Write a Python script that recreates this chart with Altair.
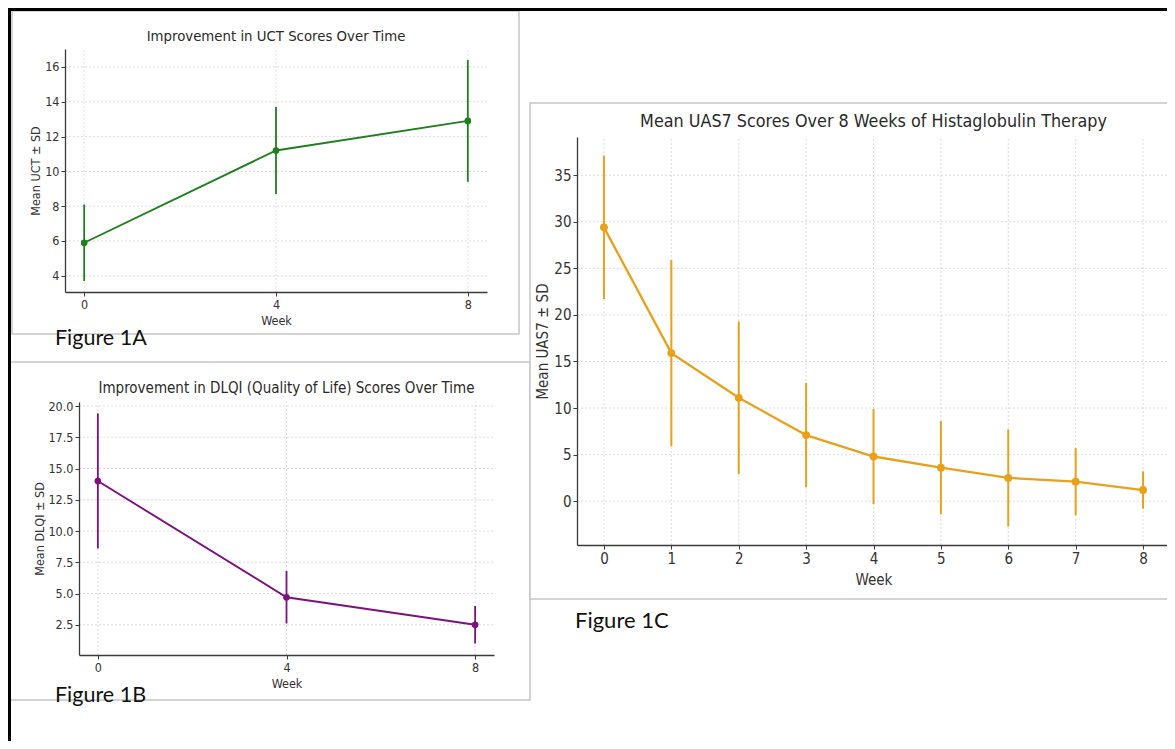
import altair as alt
import pandas as pd

# ---------------- data ----------------
# Figure 1A: UCT
WEEKS_A = [0, 4, 8]
UCT_MEAN = [5.9, 11.2, 12.9]
UCT_SD = [2.2, 2.5, 3.5]
TICKS_A_X = [0, 4, 8]
TICKS_A_Y = [4, 6, 8, 10, 12, 14, 16]

# Figure 1B: DLQI
WEEKS_B = [0, 4, 8]
DLQI_MEAN = [14.0, 4.7, 2.5]
DLQI_SD = [5.4, 2.1, 1.5]
TICKS_B_X = [0, 4, 8]
TICKS_B_Y = [2.5, 5.0, 7.5, 10.0, 12.5, 15.0, 17.5, 20.0]

# Figure 1C: UAS7
WEEKS_C = [0, 1, 2, 3, 4, 5, 6, 7, 8]
UAS7_MEAN = [29.4, 15.9, 11.1, 7.1, 4.8, 3.6, 2.5, 2.1, 1.2]
UAS7_SD = [7.7, 10.0, 8.2, 5.6, 5.1, 5.0, 5.2, 3.6, 2.0]
TICKS_C_X = [0, 1, 2, 3, 4, 5, 6, 7, 8]
TICKS_C_Y = [0, 5, 10, 15, 20, 25, 30, 35]

W, H = 1159, 733
FONT = "DejaVu Sans Condensed, DejaVu Sans"
CAP_FONT = "Lato"
GRID = "#d4d4d4"
AXC = "#3a3a3a"
ONE = pd.DataFrame({"k": [0]})


def panel(weeks, mean, sd, xdom, ydom, xrange_, yrange_, xticks, yticks,
          color, title, ytitle, title_y, title_size, fs, xoff, yoff,
          yfmt, lw, ew, ps, ytp, xtp):
    df = pd.DataFrame({"week": weeks, "mean": mean, "sd": sd})
    xs = alt.Scale(domain=xdom, range=xrange_, nice=False, zero=False)
    ys = alt.Scale(domain=ydom, range=yrange_, nice=False, zero=False)
    ax_common = dict(tickSize=4, tickWidth=1, tickColor=AXC, domainColor=AXC,
                     domainWidth=1.3, labelColor="#333", titleColor="#333",
                     labelFont=FONT, titleFont=FONT, labelFontSize=fs,
                     titleFontSize=fs, titleFontWeight="normal", grid=False,
                     labelPadding=2, zindex=2)
    xaxis = alt.Axis(orient="bottom", offset=xoff, values=xticks, format="d",
                     title="Week", titlePadding=xtp, **ax_common)
    yaxis = alt.Axis(orient="left", offset=yoff, values=yticks, format=yfmt,
                     title=ytitle, titlePadding=ytp, **ax_common)

    gridx = alt.Chart(pd.DataFrame({"t": xticks})).mark_rule(
        color=GRID, strokeDash=[2, 2], strokeWidth=0.8).encode(
        x=alt.X("t:Q", scale=xs, axis=None),
        y=alt.YDatum(ydom[0], scale=ys, axis=None),
        y2=alt.Y2Datum(ydom[1]))
    gridy = alt.Chart(pd.DataFrame({"t": yticks})).mark_rule(
        color=GRID, strokeDash=[2, 2], strokeWidth=0.8).encode(
        y=alt.Y("t:Q", scale=ys, axis=None),
        x=alt.XDatum(xdom[0], scale=xs, axis=None),
        x2=alt.X2Datum(xdom[1]))
    err = alt.Chart(df).transform_calculate(
        lo="datum.mean - datum.sd", hi="datum.mean + datum.sd").mark_rule(
        color=color, strokeWidth=ew).encode(
        x=alt.X("week:Q", scale=xs, axis=None),
        y=alt.Y("lo:Q", scale=ys, axis=None),
        y2="hi:Q")
    line = alt.Chart(df).mark_line(color=color, strokeWidth=lw).encode(
        x=alt.X("week:Q", scale=xs, axis=None),
        y=alt.Y("mean:Q", scale=ys, axis=None))
    pts = alt.Chart(df).mark_circle(color=color, size=ps, opacity=1).encode(
        x=alt.X("week:Q", scale=xs, axis=xaxis),
        y=alt.Y("mean:Q", scale=ys, axis=yaxis))
    ttl = alt.Chart(ONE).mark_text(
        text=title, font=FONT, fontSize=title_size, color="#2a2a2a",
        align="center", baseline="middle").encode(
        x=alt.XDatum(4, scale=xs, axis=None),
        y=alt.value(title_y))
    return [gridx, gridy, err, line, pts, ttl]


pA = panel(WEEKS_A, UCT_MEAN, UCT_SD, [-0.4, 8.4], [3.07, 17.03],
           [57, 479], [284, 41], TICKS_A_X, TICKS_A_Y, "#1f7f1f",
           "Improvement in UCT Scores Over Time", "Mean UCT ± SD",
           29, 14.8, 12.5, 284 - H, -57, "d", 1.9, 1.8, 45, 2, 4)
pB = panel(WEEKS_B, DLQI_MEAN, DLQI_SD, [-0.4, 8.4], [0.08, 20.32],
           [71, 486], [647, 394], TICKS_B_X, TICKS_B_Y, "#7d117d",
           "Improvement in DLQI (Quality of Life) Scores Over Time",
           "Mean DLQI ± SD", 380, 15, 12.5, 647 - H, -71, ".1f", 1.9, 1.8,
           45, 1, 4)
pC = panel(WEEKS_C, UAS7_MEAN, UAS7_SD, [-0.4, 8.4], [-4.7, 39.1],
           [569, 1162], [537, 129], TICKS_C_X, TICKS_C_Y, "#E8A11B",
           "Mean UAS7 Scores Over 8 Weeks of Histaglobulin Therapy",
           "Mean UAS7 ± SD", 114, 17.8, 15, 537 - H, -569, "d", 2.3, 2.0,
           62, 3, 6)


def box(x1, y1, x2, y2):
    return alt.Chart(ONE).mark_rect(fill="white", stroke="#c6c6c6",
                                    strokeWidth=1.5).encode(
        x=alt.value(x1), x2=alt.value(x2), y=alt.value(y1), y2=alt.value(y2))


def caption(txt, x, y, fs):
    return alt.Chart(ONE).mark_text(text=txt, font=CAP_FONT, fontSize=fs,
                                    color="#111", align="left",
                                    baseline="alphabetic").encode(
        x=alt.value(x), y=alt.value(y))


border_l = alt.Chart(ONE).mark_rule(color="black", strokeWidth=3).encode(
    x=alt.value(1.5), y=alt.value(0), y2=alt.value(H))
border_t = alt.Chart(ONE).mark_rule(color="black", strokeWidth=3).encode(
    y=alt.value(1.5), x=alt.value(0), x2=alt.value(W))

boxA = box(4, 3, 511, 326)
boxB = box(-1, 354, 522, 692)
boxC = box(522, 95, 1190, 591)

layers = [boxB, boxA, boxC] + pA + pB + pC + [
    caption("Figure 1A", 47, 337, 21.5),
    caption("Figure 1B", 47, 694, 21.5),
    caption("Figure 1C", 567, 620, 22),
    border_l, border_t,
]

chart = alt.layer(*layers).resolve_scale(
    x="independent", y="independent"
).resolve_axis(x="independent", y="independent").properties(
    width=W, height=H, autosize=alt.AutoSizeParams(type="none"), padding=0,
    background="white"
).configure_view(stroke=None)

chart.save("out.html", embed_options={"renderer": "svg", "actions": False})
